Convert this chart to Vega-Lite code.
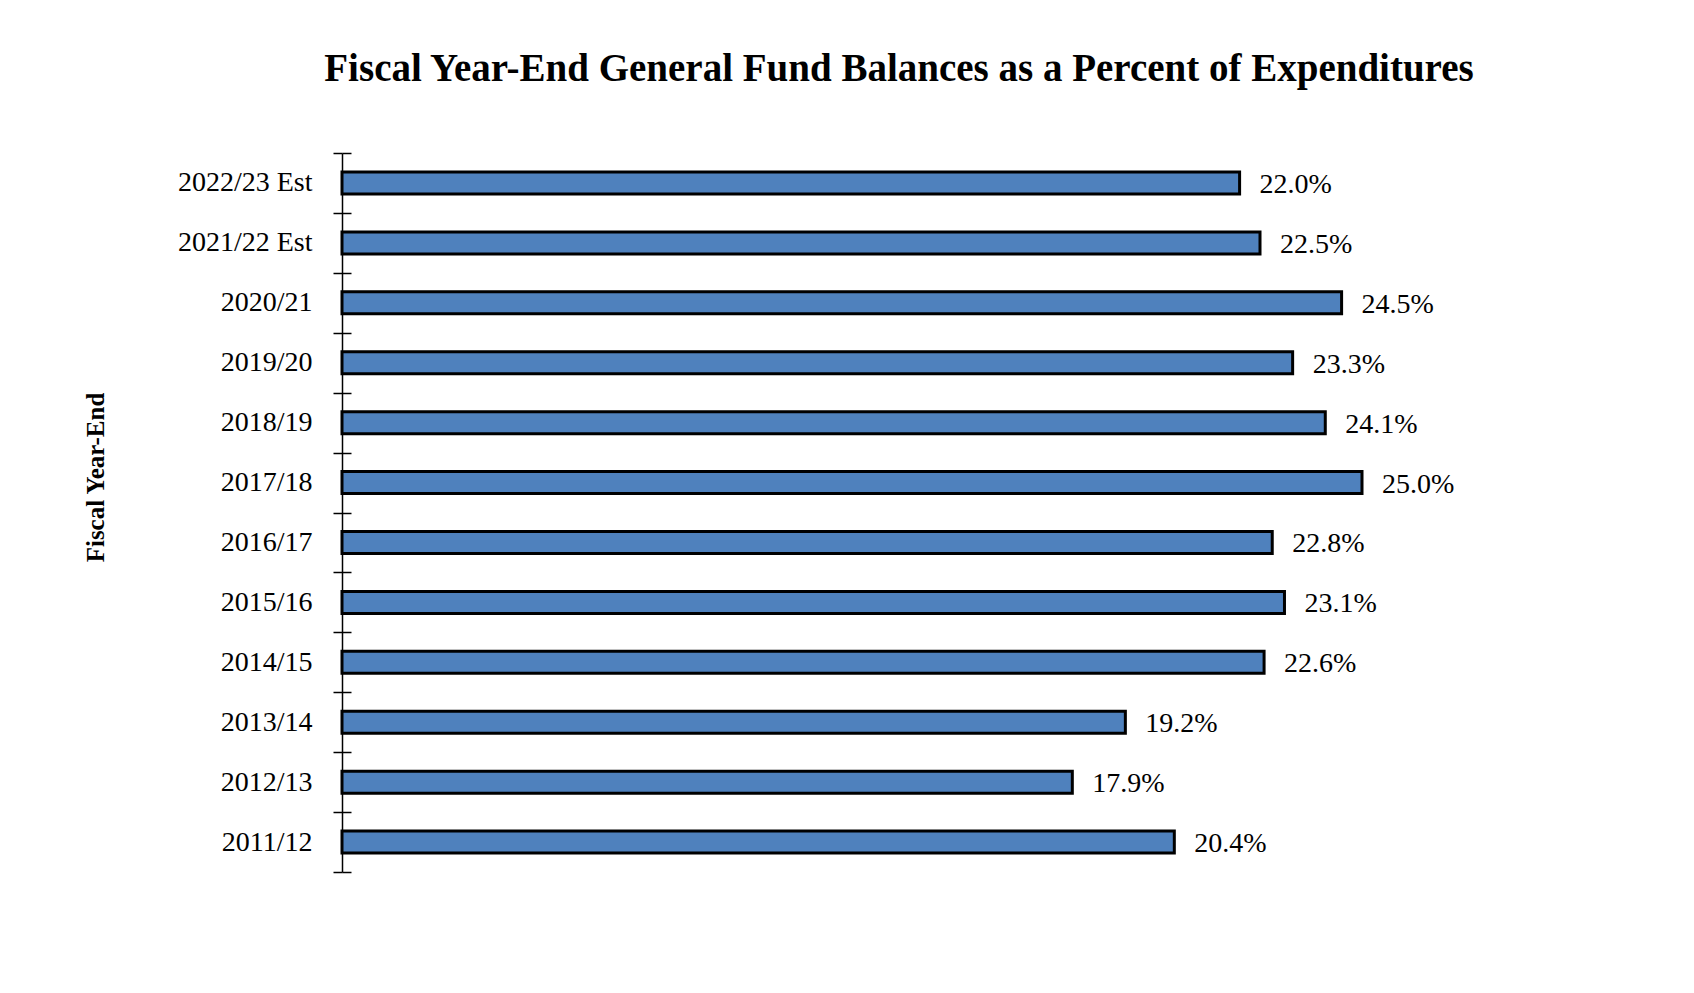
{
  "$schema": "https://vega.github.io/schema/vega-lite/v6.json",
  "width": 1224,
  "height": 719,
  "autosize": {"type": "none"},
  "padding": {"left": 342, "top": 153, "right": 128, "bottom": 121},
  "background": "white",
  "config": {"view": {"stroke": null}, "font": "Liberation Serif"},
  "title": {
    "text": "Fiscal Year-End General Fund Balances as a Percent of Expenditures",
    "font": "Liberation Serif",
    "fontSize": 39,
    "fontWeight": "bold",
    "color": "black",
    "anchor": "middle",
    "baseline": "alphabetic",
    "offset": 19,
    "dx": -55
  },
  "data": {
    "values": [
      {"year": "2022/23 Est", "pct": 0.220},
      {"year": "2021/22 Est", "pct": 0.225},
      {"year": "2020/21", "pct": 0.245},
      {"year": "2019/20", "pct": 0.233},
      {"year": "2018/19", "pct": 0.241},
      {"year": "2017/18", "pct": 0.250},
      {"year": "2016/17", "pct": 0.228},
      {"year": "2015/16", "pct": 0.231},
      {"year": "2014/15", "pct": 0.226},
      {"year": "2013/14", "pct": 0.192},
      {"year": "2012/13", "pct": 0.179},
      {"year": "2011/12", "pct": 0.204}
    ]
  },
  "encoding": {
    "y": {
      "field": "year",
      "type": "nominal",
      "sort": null,
      "scale": {"paddingInner": 0, "paddingOuter": 0}
    },
    "x": {
      "field": "pct",
      "type": "quantitative",
      "scale": {"domain": [0, 0.3], "nice": false, "zero": true},
      "axis": null
    }
  },
  "layer": [
    {
      "mark": {"type": "bar", "fill": "#4F81BD", "stroke": "black", "strokeWidth": 3, "size": 22},
      "encoding": {
        "y": {
          "field": "year",
          "type": "nominal",
          "sort": null,
          "axis": {
            "title": "Fiscal Year-End",
            "titleFont": "Liberation Serif",
            "titleFontSize": 25,
            "titleFontWeight": "bold",
            "titleColor": "black",
            "titleAngle": -90,
            "titleAlign": "center",
            "titleBaseline": "alphabetic",
            "titleX": -239,
            "titleY": 324,
            "labelFont": "Liberation Serif",
            "labelFontSize": 28,
            "labelColor": "black",
            "labelPadding": 21,
            "labelAlign": "right",
            "domainColor": "black",
            "domainWidth": 1.5,
            "tickColor": "black",
            "tickWidth": 1.5,
            "tickSize": 9,
            "tickBand": "extent",
            "tickExtra": true,
            "orient": "left"
          }
        }
      }
    },
    {
      "mark": {"type": "text", "align": "left", "baseline": "alphabetic", "dx": 20, "dy": 10, "fontSize": 28, "font": "Liberation Serif", "color": "black"},
      "encoding": {
        "text": {"field": "pct", "type": "quantitative", "format": ".1%"},
        "y": {
          "field": "year",
          "type": "nominal",
          "sort": null,
          "axis": {
            "title": null,
            "labels": false,
            "domain": false,
            "tickColor": "black",
            "tickWidth": 1.5,
            "tickSize": -9,
            "tickBand": "extent",
            "tickExtra": true,
            "orient": "left"
          }
        }
      }
    }
  ],
  "resolve": {"axis": {"y": "independent"}}
}
